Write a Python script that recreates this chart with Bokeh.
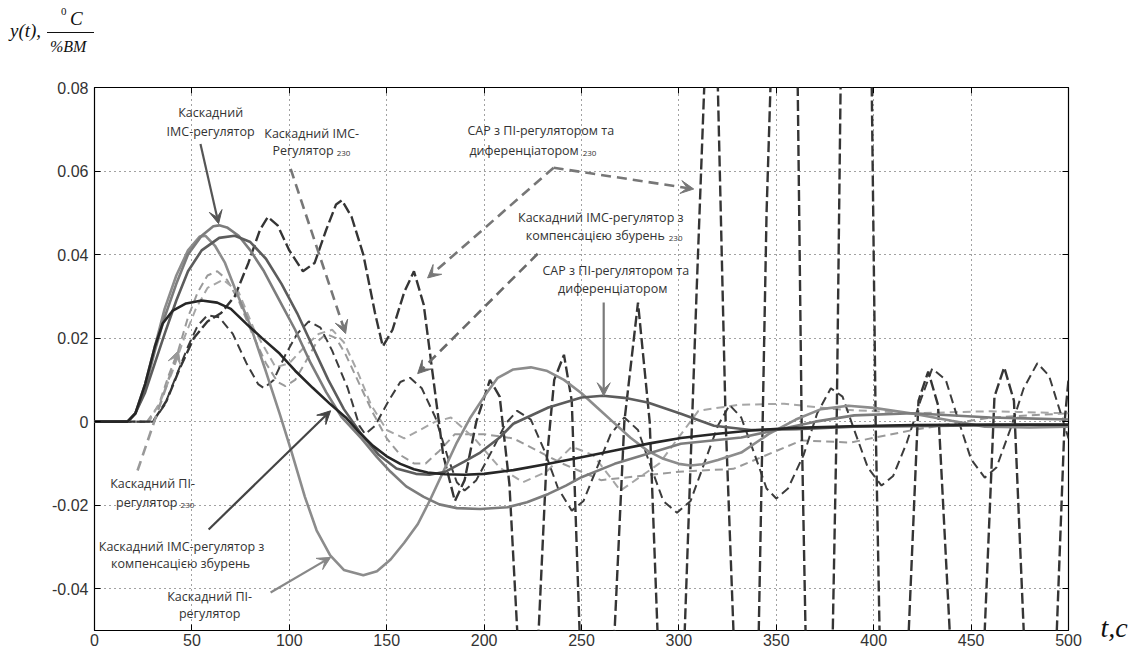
from bokeh.plotting import figure
from bokeh.layouts import column
from bokeh.models import (Range1d, LinearAxis, FixedTicker, CustomJSTickFormatter,
                          Label, Arrow, VeeHead, Div)
from bokeh.embed import file_html
from bokeh.resources import INLINE

# ---- time responses (t in s, y in degC per %BM) ----
pi_t = [0, 17, 21, 26, 31, 36, 42, 48, 54, 57, 62, 67, 72, 80, 88, 95, 101, 108, 114, 121, 128, 138,
        145, 152, 159, 166, 172, 178, 186, 193, 200, 207, 215, 224, 232, 241, 250, 258, 266, 275, 284,
        292, 300, 306, 312, 320, 332, 346, 360, 373, 387, 400, 419, 440, 457, 480, 500]
pi_y = [0, 0, 0.002, 0.009, 0.018, 0.027, 0.035, 0.041, 0.0443, 0.0445, 0.042, 0.038, 0.032, 0.023,
        0.012, 0.002, -0.007, -0.018, -0.026, -0.032, -0.0355, -0.0368, -0.0358, -0.033, -0.029,
        -0.0245, -0.019, -0.013, -0.005, 0.001, 0.006, 0.0105, 0.0125, 0.013, 0.0122, 0.010, 0.0068,
        0.0034, 0.0, -0.0038, -0.007, -0.0089, -0.0101, -0.0105, -0.0102, -0.0092, -0.0074, -0.003,
        0.0005, 0.003, 0.0038, 0.0033, 0.002, 0.0002, -0.0012, -0.0014, -0.0012]

imc_t = [0, 17, 21, 26, 31, 36, 42, 48, 55, 61, 64, 68, 74, 80, 87, 95, 103, 111, 119, 127, 137, 145,
         152, 160, 169, 177, 186, 198, 212, 222, 233, 242, 250, 267, 284, 301, 332, 350, 370, 390,
         420, 460, 500]
imc_y = [0, 0, 0.002, 0.008, 0.017, 0.025, 0.033, 0.040, 0.0445, 0.0468, 0.047, 0.0465, 0.0445,
         0.041, 0.036, 0.029, 0.022, 0.014, 0.007, 0.001, -0.004, -0.0085, -0.012, -0.0155, -0.018,
         -0.0198, -0.0207, -0.0209, -0.0205, -0.0193, -0.0173, -0.0153, -0.0133, -0.0101, -0.0077,
         -0.0053, -0.0038, -0.002, 0.0, 0.0015, 0.002, 0.001, 0.0005]

imck_t = [0, 17, 21, 26, 31, 35, 40, 47, 55, 63, 70, 78, 86, 95, 103, 112, 121, 129, 136, 143, 150,
          157, 164, 171, 180, 190, 200, 215, 233, 250, 267, 285, 301, 320, 337, 360, 388, 420, 460, 500]
imck_y = [0, 0, 0.002, 0.009, 0.018, 0.0235, 0.0265, 0.0283, 0.029, 0.0285, 0.027, 0.0234, 0.020,
          0.0163, 0.0122, 0.0081, 0.0042, 0.001, -0.0026, -0.0058, -0.0083, -0.0101, -0.0114,
          -0.0122, -0.0126, -0.0127, -0.0125, -0.0116, -0.0101, -0.0085, -0.0069, -0.0052, -0.0039,
          -0.0029, -0.0021, -0.0015, -0.0011, -0.0008, -0.0007, -0.0007]

pid_t = [0, 17, 21, 26, 31, 36, 42, 48, 55, 64, 72, 80, 88, 96, 104, 112, 120, 128, 137, 146, 155,
         165, 172, 180, 190, 198, 208, 215, 233, 250, 261, 272, 284, 301, 318, 337, 360, 390, 430,
         470, 500]
pid_y = [0, 0, 0.002, 0.007, 0.014, 0.021, 0.029, 0.036, 0.041, 0.044, 0.0445, 0.043, 0.039, 0.033,
         0.026, 0.018, 0.010, 0.003, -0.003, -0.008, -0.0112, -0.0125, -0.0127, -0.012, -0.0095,
         -0.0074, -0.0038, -0.0005, 0.0034, 0.0058, 0.0062, 0.0057, 0.0046, 0.0019, -0.001, -0.002,
         -0.0018, -0.0012, -0.001, -0.0008, -0.0008]

# ---- responses with parameters tuned at 230 ----
pid230_t = [0, 30, 37, 44, 51, 58, 65, 72, 79, 85, 89, 94, 100, 107, 113, 119, 124, 127, 132, 138,
            144, 148, 153, 159, 164, 169, 174, 179, 185, 190, 196, 203, 208, 213, 217, 222, 228, 232,
            236, 241, 245, 249, 258, 267, 272, 279, 285, 289, 296, 303, 309, 313, 317, 320, 324, 328,
            334, 341, 345, 347, 353, 361, 363, 365, 372, 379, 381, 383, 391, 399, 401, 403, 410, 418,
            423, 428, 433, 439, 448, 457, 462, 467, 472, 477, 485, 494, 498, 500]
pid230_y = [0, 0, 0.005, 0.013, 0.020, 0.024, 0.026, 0.030, 0.038, 0.046, 0.049, 0.047, 0.041,
            0.036, 0.038, 0.046, 0.052, 0.053, 0.049, 0.040, 0.026, 0.018, 0.022, 0.031, 0.036,
            0.028, 0.010, -0.008, -0.019, -0.014, 0.0, 0.010, 0.006, -0.015, -0.05, -0.09, -0.05,
            -0.01, 0.010, 0.016, 0.005, -0.05, -0.12, -0.05, 0.0, 0.0285, 0.0, -0.05, -0.15, -0.05,
            0.03, 0.08, 0.15, 0.08, 0.0, -0.05, -0.18, -0.05, 0.05, 0.08, 0.2, 0.08, 0.0, -0.05, -0.2,
            -0.05, 0.0, 0.08, 0.22, 0.08, 0.0, -0.05, -0.22, -0.05, 0.005, 0.012, 0.004, -0.05,
            -0.25, -0.05, 0.006, 0.013, 0.005, -0.05, -0.27, -0.05, 0.0, 0.01]

imck230_t = [0, 30, 36, 42, 48, 53, 58, 64, 71, 78, 84, 87, 92, 98, 104, 110, 116, 122, 130, 136,
             139, 144, 151, 157, 162, 168, 175, 181, 186, 190, 196, 204, 211, 217, 224, 231, 238,
             245, 251, 258, 265, 272, 279, 285, 292, 299, 306, 313, 320, 326, 332, 339, 345, 350,
             356, 364, 371, 378, 384, 390, 397, 404, 410, 417, 424, 430, 437, 443, 450, 457, 463,
             470, 477, 484, 490, 496, 500]
imck230_y = [0, 0, 0.004, 0.011, 0.018, 0.023, 0.0255, 0.025, 0.021, 0.014, 0.009, 0.008, 0.010,
             0.016, 0.021, 0.024, 0.0225, 0.017, 0.008, -0.001, -0.003, -0.001, 0.005, 0.0095,
             0.0105, 0.008, 0.001, -0.008, -0.0145, -0.0165, -0.014, -0.007, -0.0005, 0.0026,
             0.0005, -0.007, -0.016, -0.0213, -0.019, -0.011, -0.003, 0.001, -0.002, -0.010, -0.019,
             -0.0218, -0.019, -0.010, -0.001, 0.004, 0.001, -0.008, -0.016, -0.0184, -0.016, -0.008,
             0.002, 0.008, 0.006, -0.002, -0.011, -0.0153, -0.013, -0.005, 0.005, 0.0127, 0.010,
             0.001, -0.009, -0.0134, -0.011, -0.002, 0.008, 0.014, 0.011, 0.002, -0.004]

pi230_t = [0, 27, 33, 38, 43, 48, 53, 58, 63, 68, 74, 81, 88, 94, 98, 103, 108, 114, 119, 124, 129,
           136, 143, 150, 157, 164, 170, 177, 185, 200, 215, 240, 260, 280, 300, 328, 363, 388, 420,
           460, 500]
pi230_y = [0, 0, 0.004, 0.011, 0.017, 0.025, 0.031, 0.035, 0.036, 0.034, 0.029, 0.021, 0.014,
           0.0095, 0.0085, 0.010, 0.014, 0.019, 0.021, 0.020, 0.016, 0.009, 0.002, -0.004, -0.008,
           -0.010, -0.010, -0.007, -0.003, -0.003, -0.004, -0.010, -0.014, -0.013, -0.012, -0.0113,
           -0.0045, -0.005, -0.002, 0.001, 0.002]

imc230_t = [0, 28, 34, 40, 46, 52, 58, 66, 74, 82, 93, 100, 108, 115, 122, 128, 135, 142, 150, 159,
            167, 175, 183, 195, 208, 220, 232, 245, 256, 270, 290, 310, 330, 354, 380, 420, 460, 500]
imc230_y = [0, 0, 0.005, 0.012, 0.020, 0.027, 0.032, 0.034, 0.031, 0.022, 0.013, 0.014, 0.018,
            0.021, 0.022, 0.019, 0.012, 0.004, -0.002, -0.004, -0.002, 0.0, 0.001, -0.004, -0.011,
            -0.0145, -0.012, -0.006, -0.008, -0.0165, -0.010, 0.0026, 0.004, 0.0043, 0.003, 0.002,
            0.0025, 0.002]

x_ticks = [0, 50, 100, 150, 200, 250, 300, 350, 400, 450, 500]
y_ticks = [-0.04, -0.02, 0, 0.02, 0.04, 0.06, 0.08]
t_caption_at = -0.0494

CAP_H = 60      # height of the strip holding the y-axis caption
W = 1134
serif = "Liberation Serif"
ink = "#111111"

# ---- caption strip: y(t), degC / %BM ----
caption_html = (
    f'<div style="position:relative;width:{W}px;height:{CAP_H}px;'
    f"font-family:'{serif}',serif;color:{ink};\">"
    '<span style="position:absolute;left:10px;top:20px;font-size:19px;font-style:italic;'
    'line-height:22px;">y(t),</span>'
    '<span style="position:absolute;left:61px;top:5px;font-size:11px;line-height:13px;">0</span>'
    '<span style="position:absolute;left:70px;top:8px;font-size:19px;font-style:italic;'
    'line-height:22px;">C</span>'
    f'<span style="position:absolute;left:47px;top:32px;width:47px;height:0;'
    f'border-top:1px solid {ink};"></span>'
    '<span style="position:absolute;left:50px;top:37px;font-size:16px;font-style:italic;'
    'line-height:19px;">%BM</span>'
    '</div>')
cap = Div(text=caption_html, width=W, height=CAP_H, margin=(0, 0, 0, 0))

# ---- main plot ----
fig = figure(width=W, height=653 - CAP_H, output_backend="svg", toolbar_location=None,
             x_range=Range1d(0, 500), y_range=Range1d(-0.05, 0.08),
             min_border_left=94, min_border_right=66, min_border_top=87 - CAP_H,
             min_border_bottom=23, background_fill_color="white", border_fill_color="white",
             margin=(0, 0, 0, 0))
fig.outline_line_color = "black"
fig.outline_line_width = 1.2

tick_font = "Liberation Sans"
for ax in (fig.xaxis[0], fig.yaxis[0]):
    ax.major_tick_in = 6
    ax.major_tick_out = 0
    ax.minor_tick_line_color = None
    ax.axis_line_color = None
    ax.major_tick_line_color = "black"
    ax.major_label_text_font = tick_font
    ax.major_label_text_font_size = "16px"
    ax.major_label_text_color = "#333333"
fig.xaxis[0].ticker = FixedTicker(ticks=x_ticks)
fig.yaxis[0].ticker = FixedTicker(ticks=y_ticks)
fig.xaxis[0].major_label_standoff = 3
fig.yaxis[0].major_label_standoff = 6
fig.yaxis[0].formatter = CustomJSTickFormatter(
    code="return Math.abs(tick) < 1e-9 ? '0' : tick.toFixed(2);")

# right edge: inward box ticks (as minor ticks) and the time-axis caption "t,c"
right_ax = LinearAxis(ticker=FixedTicker(ticks=[t_caption_at], minor_ticks=y_ticks),
                      formatter=CustomJSTickFormatter(code="return 't,c';"),
                      axis_line_color=None, major_tick_line_color=None,
                      minor_tick_in=6, minor_tick_out=0, minor_tick_line_color="black",
                      major_label_standoff=26, major_label_text_font=serif,
                      major_label_text_font_style="italic", major_label_text_font_size="28px",
                      major_label_text_color=ink)
fig.add_layout(right_ax, "right")

# top edge: inward box ticks
top_ax = LinearAxis(ticker=FixedTicker(ticks=[], minor_ticks=x_ticks),
                    formatter=CustomJSTickFormatter(code="return '';"),
                    axis_line_color=None, major_tick_line_color=None,
                    minor_tick_in=6, minor_tick_out=0, minor_tick_line_color="black",
                    major_label_text_font_size="1px", major_label_standoff=0)
fig.add_layout(top_ax, "above")

fig.xgrid.ticker = FixedTicker(ticks=x_ticks)
fig.ygrid.ticker = FixedTicker(ticks=y_ticks)
for g in (fig.xgrid[0], fig.ygrid[0]):
    g.grid_line_color = "#444444"
    g.grid_line_dash = "1 4"
    g.grid_line_width = 1

# dashed curves first, solid ones on top
fig.line(pi230_t, pi230_y, line_color="#9a9a9a", line_width=2, line_dash="8 5")
fig.line(imc230_t, imc230_y, line_color="#a6a6a6", line_width=2, line_dash="8 5")
fig.line(imck230_t, imck230_y, line_color="#3c3c3c", line_width=2, line_dash="9 5")
fig.line(pid230_t, pid230_y, line_color="#353535", line_width=2.4, line_dash="11 4")

fig.line(pi_t, pi_y, line_color="#8c8c8c", line_width=2.6)
fig.line(imc_t, imc_y, line_color="#7c7c7c", line_width=2.6)
fig.line(pid_t, pid_y, line_color="#5c5c5c", line_width=2.6)
fig.line(imck_t, imck_y, line_color="#262626", line_width=2.6)

# ---- annotations ----
ann_font = "Open Sans"
ann_col = "#333333"


def note(x, y, text, align="center", size="12.5px"):
    fig.add_layout(Label(x=x, y=y, text=text, text_font=ann_font, text_font_size=size,
                         text_color=ann_col, text_align=align, text_baseline="middle"))


def arrow(x0, y0, x1, y1, color, dash="solid", width=2.2):
    fig.add_layout(Arrow(x_start=x0, y_start=y0, x_end=x1, y_end=y1, line_color=color,
                         line_width=width, line_dash=dash,
                         end=VeeHead(size=13, fill_color=color, line_color=color)))


note(59.6, 0.0739, "Каскадний")
note(59.6, 0.0694, "IMC-регулятор")
arrow(54.4, 0.0665, 63.7, 0.0474, "#555555")

note(111.5, 0.0691, "Каскадний IMC-")
note(122.8, 0.0648, "Регулятор", align="right")
note(124.3, 0.0641, "230", align="left", size="8px")
arrow(100.7, 0.0605, 128.9, 0.0211, "#777777", dash="10 6", width=2.6)

note(229.1, 0.0696, "САР з ПІ-регулятором та")
note(248.6, 0.0648, "диференціатором", align="right")
note(250.6, 0.0641, "230", align="left", size="8px")
fig.add_layout(Arrow(x_start=235.7, y_start=0.0608, x_end=307.6, y_end=0.0557,
                     line_color="#777777", line_width=2.6, line_dash="10 6",
                     end=VeeHead(size=13, fill_color="#777777", line_color="#777777")))
arrow(235.7, 0.0608, 171.0, 0.0344, "#777777", dash="10 6", width=2.6)

note(259.9, 0.0488, "Каскадний IMC-регулятор з")
note(292.8, 0.0445, "компенсацією збурень", align="right")
note(294.8, 0.0438, "230", align="left", size="8px")
arrow(227.5, 0.0402, 165.9, 0.0115, "#6a6a6a", dash="10 6", width=2.6)

note(267.6, 0.0361, "САР з ПІ-регулятором та")
note(266.0, 0.0318, "диференціатором")
arrow(261.4, 0.0285, 261.4, 0.0062, "#7a7a7a")

note(29.8, -0.0148, "Каскадний ПІ-")
note(42.6, -0.0194, "регулятор", align="right")
note(44.2, -0.0201, "230", align="left", size="8px")
arrow(22.1, -0.0117, 43.1, 0.0170, "#999999", dash="10 6", width=2.6)

note(44.7, -0.0299, "Каскадний IMC-регулятор з")
note(44.2, -0.0340, "компенсацією збурень")
arrow(58.6, -0.0258, 121.2, 0.0026, "#444444")

note(59.1, -0.0419, "Каскадний ПІ-")
note(59.1, -0.0459, "регулятор")
arrow(90.4, -0.0409, 121.2, -0.0325, "#888888")

p = column(cap, fig, spacing=0)
open("out.html", "w").write(file_html(p, INLINE))
